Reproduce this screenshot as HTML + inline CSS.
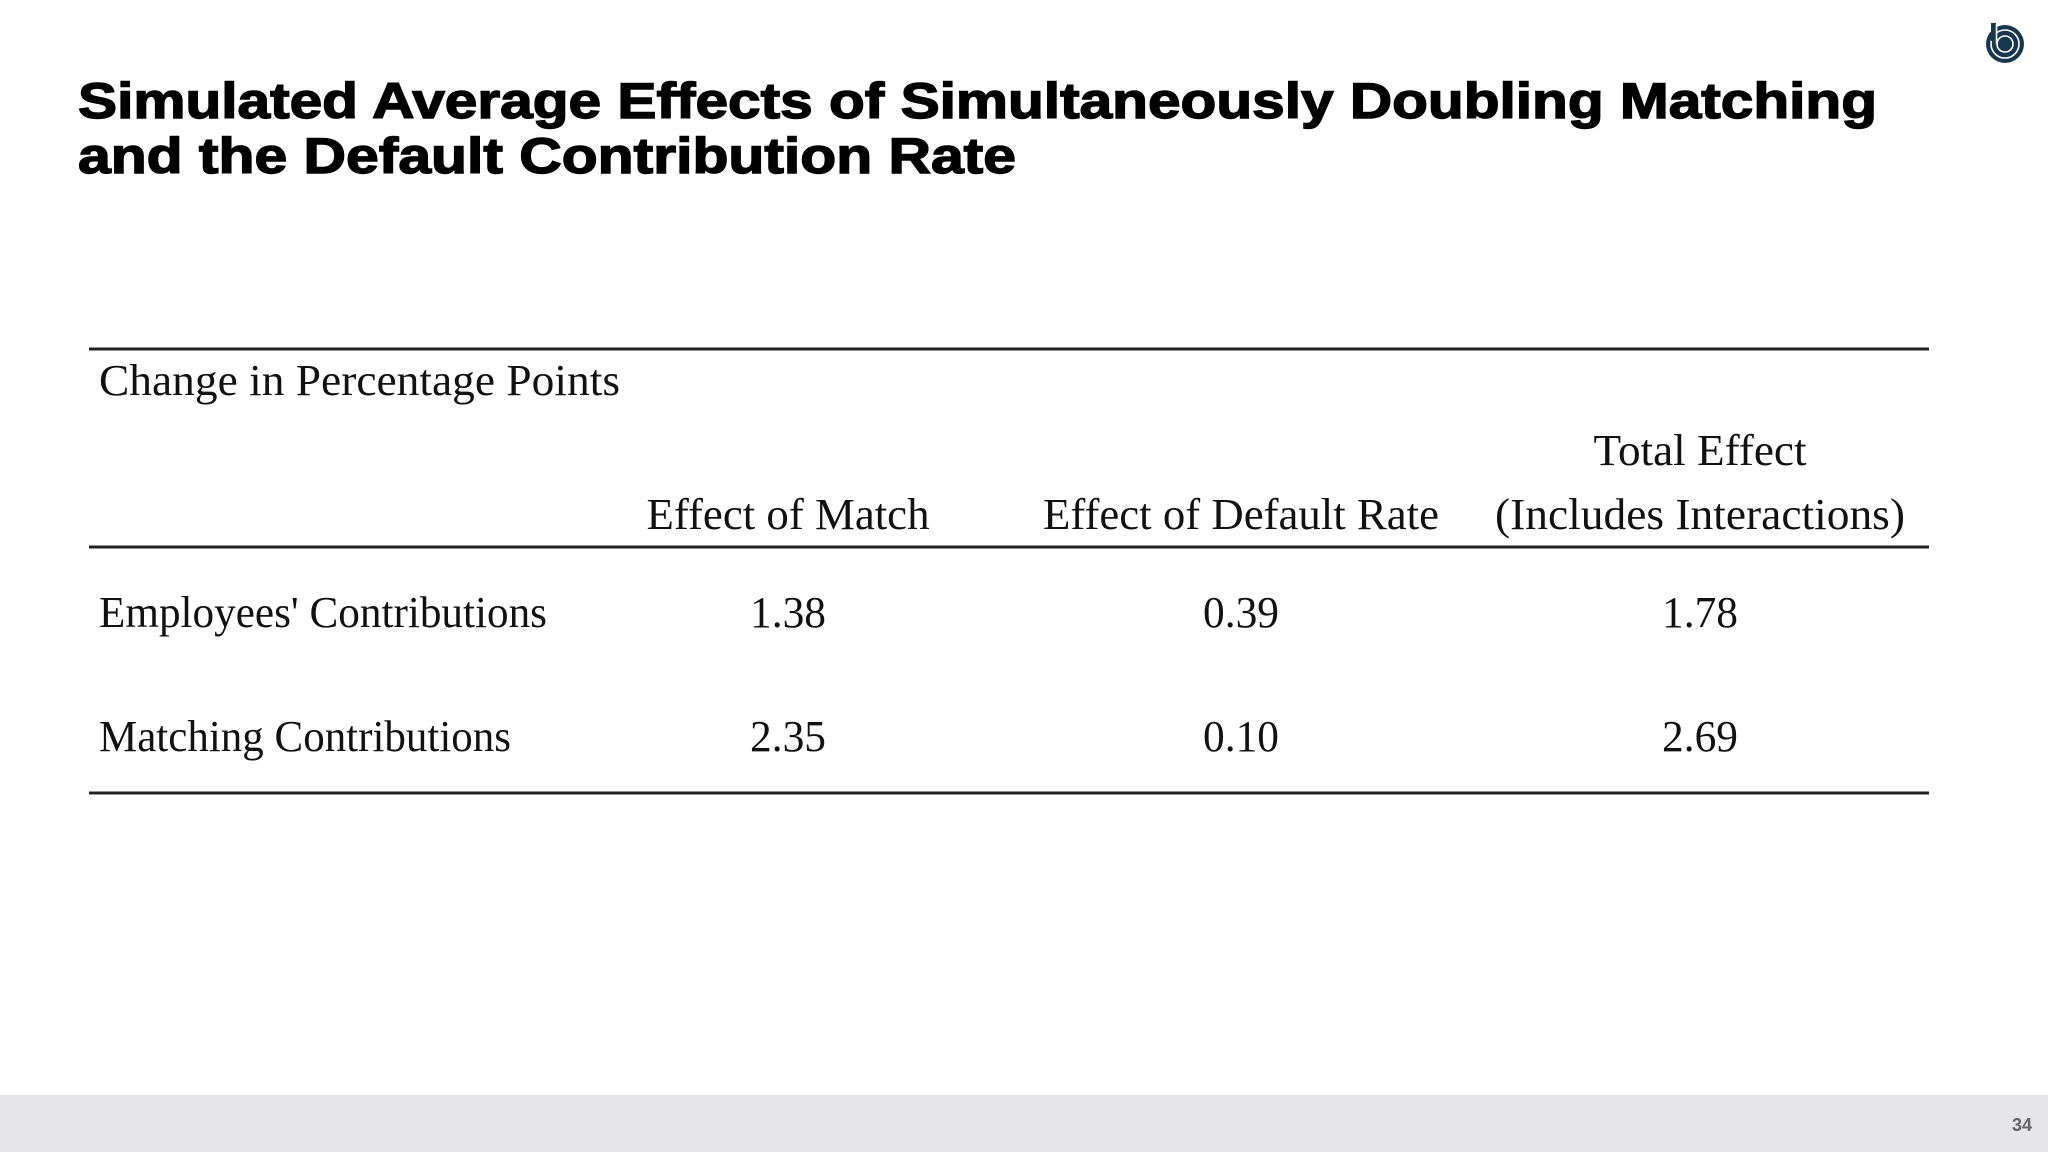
<!DOCTYPE html>
<html>
<head>
<meta charset="utf-8">
<style>
  html,body{margin:0;padding:0;background:#fff;}
  body{width:2048px;height:1152px;overflow:hidden;}
  svg{display:block;}
</style>
</head>
<body>
<svg id="slide" width="2048" height="1152" viewBox="0 0 2048 1152" xmlns="http://www.w3.org/2000/svg">
  <rect x="0" y="0" width="2048" height="1152" fill="#ffffff"/>
  <g>
    <circle cx="2005" cy="44" r="19" fill="#17374f"/>
    <circle cx="2005" cy="44" r="14" fill="none" stroke="#ffffff" stroke-width="1.6"/>
    <circle cx="2005" cy="44" r="8" fill="none" stroke="#ffffff" stroke-width="1.6"/>
    <rect x="1991" y="23" width="5" height="18" fill="#17374f"/>
    <line x1="1996.5" y1="24" x2="1996.5" y2="44" stroke="#ffffff" stroke-width="1.6"/>
  </g>
  <g font-family="'Liberation Sans', Arial, sans-serif" font-weight="bold" font-size="50" fill="#000" stroke="#000" stroke-width="1.4">
    <text x="78" y="118" textLength="1799" lengthAdjust="spacingAndGlyphs">Simulated Average Effects of Simultaneously Doubling Matching</text>
    <text x="78" y="173" textLength="938" lengthAdjust="spacingAndGlyphs">and the Default Contribution Rate</text>
  </g>
  <g id="table" font-family="'Liberation Serif', 'Times New Roman', serif" font-size="44" fill="#111"></g>
  <rect x="0" y="1095" width="2048" height="57" fill="#e6e5e8"/>
  <text x="2022" y="1131" text-anchor="middle" font-family="'Liberation Sans', Arial, sans-serif" font-weight="bold" font-size="18" fill="#666">34</text>
</svg>
<script>
const rowLabels = ["Employees' Contributions", "Matching Contributions"];
const colHeads1 = ["", "", "Total Effect"];
const colHeads2 = ["Effect of Match", "Effect of Default Rate", "(Includes Interactions)"];
const matchEffect = ["1.38", "2.35"];
const defaultEffect = ["0.39", "0.10"];
const totalEffect = ["1.78", "2.69"];

const NS = "http://www.w3.org/2000/svg";
const g = document.getElementById('table');
const colX = [788, 1241, 1700];
const head2W = [283, 396, 410];
const rowY = [627, 751];
const rowLabelW = [448, 412];

function txt(str, x, y, anchor, w, name) {
  const t = document.createElementNS(NS, 'text');
  t.setAttribute('x', x);
  t.setAttribute('y', y);
  t.setAttribute('text-anchor', anchor);
  if (w) { t.setAttribute('textLength', w); t.setAttribute('lengthAdjust', 'spacingAndGlyphs'); }
  t.textContent = str;
  
  
  g.appendChild(t);
  return t;
}
function hline(y, name) {
  const l = document.createElementNS(NS, 'rect');
  l.setAttribute('x', 89); l.setAttribute('y', y - 1.5);
  l.setAttribute('width', 1840); l.setAttribute('height', 3);
  l.setAttribute('fill', '#222');
  
  
  g.appendChild(l);
}
hline(349, 'table-top-rule');
hline(547, 'table-header-rule');
hline(793, 'table-bottom-rule');

txt("Change in Percentage Points", 99, 395, 'start', 521, 'table-unit-label');
colHeads1.forEach((h, i) => { if (h) txt(h, colX[i], 465, 'middle', 213, 'column-header-top'); });
colHeads2.forEach((h, i) => txt(h, colX[i], 529, 'middle', head2W[i], 'column-header'));
rowLabels.forEach((r, i) => txt(r, 99, rowY[i], 'start', rowLabelW[i], 'row-label'));
[matchEffect, defaultEffect, totalEffect].forEach((col, c) => {
  col.forEach((v, r) => txt(v, colX[c], rowY[r], 'middle', 76, 'table-value'));
});
</script>
</body>
</html>
